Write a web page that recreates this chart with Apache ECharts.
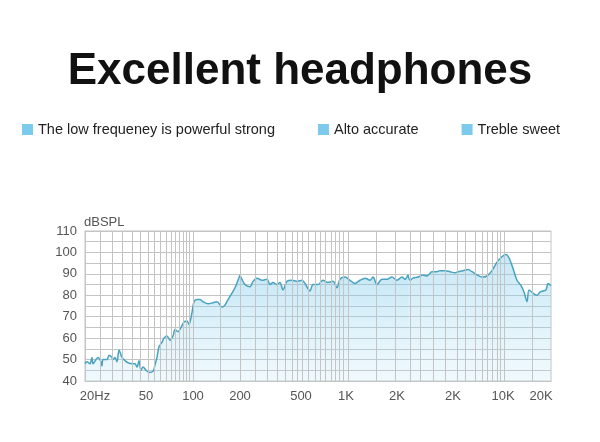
<!DOCTYPE html>
<html>
<head>
<meta charset="utf-8">
<script src="https://cdn.jsdelivr.net/npm/echarts@6/dist/echarts.min.js"></script>
<style>html,body{margin:0;padding:0;background:#fff;}#c{width:600px;height:442px;}</style>
</head>
<body>
<div id="c"></div>
<script>
// x values are positions along the (non-linear) frequency axis, 0 = 20Hz edge, 466 = right edge
var seriesNames = ['The low frequeney is powerful strong', 'Alto accurate', 'Treble sweet'];

var lowData = [[0,48],[2,49],[5,48],[7,51],[8,48],[11,50],[13,51],[16,49],[17,47],[18,50],[22,50],[24,52],[27,51],[28,50],[30,51],[32,49],[34,54.5],[37,51],[40,49.5],[43,48.5],[47,48],[50,48],[52,46.5],[54,49.5],[56,45],[58,46.5],[61,45],[64,44],[68,44.5],[70,47.5],[72,51],[74,56],[77,58],[79,60],[82,61],[85,59],[88,61],[90,64],[93,63],[96,65],[99,67.5],[102,68],[104,66.5],[107,72],[109,77],[112,78],[115,78],[118,77],[123,76],[128,76.5],[132,77],[137,74.5],[140,75.5],[143,78],[147,81],[150,83.5],[155,89.5]];

var midData = [[155,89.5],[160,85],[165,84],[168,86.5],[172,88],[177,87],[182,87.5],[185,85],[188,86],[192,85],[195,86],[198,82.5],[202,86.5],[207,87],[212,86.5],[217,87],[220,85.5],[225,82],[228,85],[233,85],[238,87],[243,86],[248,86.5],[252,83.5],[255,87.5],[260,88.5],[265,87],[270,85.5],[275,87],[280,88],[285,87],[288,88.5],[292,85],[297,87.5],[302,87.5],[307,88.5],[312,87],[317,88.5],[320,87.5],[323,89.5]];

var trebleData = [[323,89.5],[325,87],[328,88],[333,88.5],[338,89.5],[342,89],[347,91],[352,91],[355,91.5],[360,91.5],[365,91],[370,90.5],[373,91],[378,91.5],[383,92],[387,91],[392,89.5],[397,88.5],[402,89],[407,91.5],[412,95.5],[417,98],[421,99],[424,97.5],[428,92.5],[432,87],[436,84.5],[439,81.5],[442,77],[444,82.5],[448,81],[452,80],[455,81.5],[458,82],[461,82.5],[463,85.5],[466,84.5]];

var xTickLabels = ['20Hz','50','100','200','500','1K','2K','2K','10K','20K'];
var xTickPositions = [10,61,108,155,216,261,312,368,418,456];
var xGridPositions = [15,27,37,47,55,63,69,75,81,86,90,94,98,101,104,108,135,155,170,182,192,200,207,212,217,223,230,235,240,246,250,254,258,263,291,310,325,335,348,360,372,380,390,397,402,407,412,415,419,447];

var lineColor = '#47a3c0';
var legendColor = '#7ccbec';
var gridColor = '#c4c4c4';
var fontFam = 'Liberation Sans, Arial, sans-serif';

function areaFill() {
  return new echarts.graphic.LinearGradient(0, 0, 0, 1, [
    {offset: 0, color: 'rgba(120,200,235,0.6)'},
    {offset: 1, color: 'rgba(185,228,245,0.30)'}
  ]);
}

function makeSeries(name, data) {
  return {
    name: name,
    type: 'line',
    data: data,
    symbol: 'none',
    smooth: 0.3,
    z: 3,
    itemStyle: {color: legendColor},
    lineStyle: {color: lineColor, width: 1.5},
    areaStyle: {color: areaFill(), origin: 'start'}
  };
}

var chart = echarts.init(document.getElementById('c'), null, {renderer: 'canvas'});
chart.setOption({
  backgroundColor: '#fff',
  animation: false,
  title: {
    text: 'Excellent headphones',
    left: 'center',
    top: 45,
    textStyle: {fontFamily: fontFam, fontSize: 44, fontWeight: 'bold', color: '#111'}
  },
  legend: {
    left: 22,
    top: 122,
    padding: 0,
    itemWidth: 11,
    itemHeight: 11,
    itemGap: 43,
    icon: 'rect',
    selectedMode: false,
    textStyle: {fontFamily: fontFam, fontSize: 14.5, color: '#222'},
    data: seriesNames.map(function (n) {
      return {name: n, itemStyle: {color: legendColor, borderWidth: 0}};
    })
  },
  grid: {
    left: 85, top: 231, width: 466, height: 150,
    show: true, borderColor: gridColor, borderWidth: 1
  },
  xAxis: {
    type: 'value',
    min: 0, max: 466,
    axisLine: {show: true, lineStyle: {color: gridColor}},
    axisTick: {show: false},
    splitLine: {show: false},
    axisLabel: {
      customValues: xTickPositions,
      margin: 9,
      fontFamily: fontFam, fontSize: 13, color: '#555',
      formatter: function (v) {
        var i = xTickPositions.indexOf(v);
        return i >= 0 ? xTickLabels[i] : '';
      }
    }
  },
  yAxis: {
    type: 'value',
    min: 40, max: 110, interval: 5,
    name: 'dBSPL',
    nameLocation: 'end',
    nameGap: 2,
    nameTextStyle: {fontFamily: fontFam, fontSize: 13, color: '#555', align: 'left', padding: [0, 0, 0, -1]},
    axisLine: {show: true, lineStyle: {color: gridColor}},
    axisTick: {show: false},
    splitLine: {show: true, lineStyle: {color: gridColor, width: 1}},
    axisLabel: {
      margin: 8,
      fontFamily: fontFam, fontSize: 13, color: '#555',
      formatter: function (v) { return v % 10 === 0 ? String(v) : ''; }
    }
  },
  series: [
    {
      name: 'grid',
      type: 'line',
      data: [],
      z: 1,
      silent: true,
      markLine: {
        silent: true,
        symbol: ['none', 'none'],
        label: {show: false},
        lineStyle: {color: gridColor, width: 1, type: 'solid'},
        emphasis: {disabled: true},
        data: xGridPositions.map(function (p) { return {xAxis: p}; })
      }
    },
    makeSeries(seriesNames[0], lowData),
    makeSeries(seriesNames[1], midData),
    makeSeries(seriesNames[2], trebleData)
  ]
});
</script>
</body>
</html>
